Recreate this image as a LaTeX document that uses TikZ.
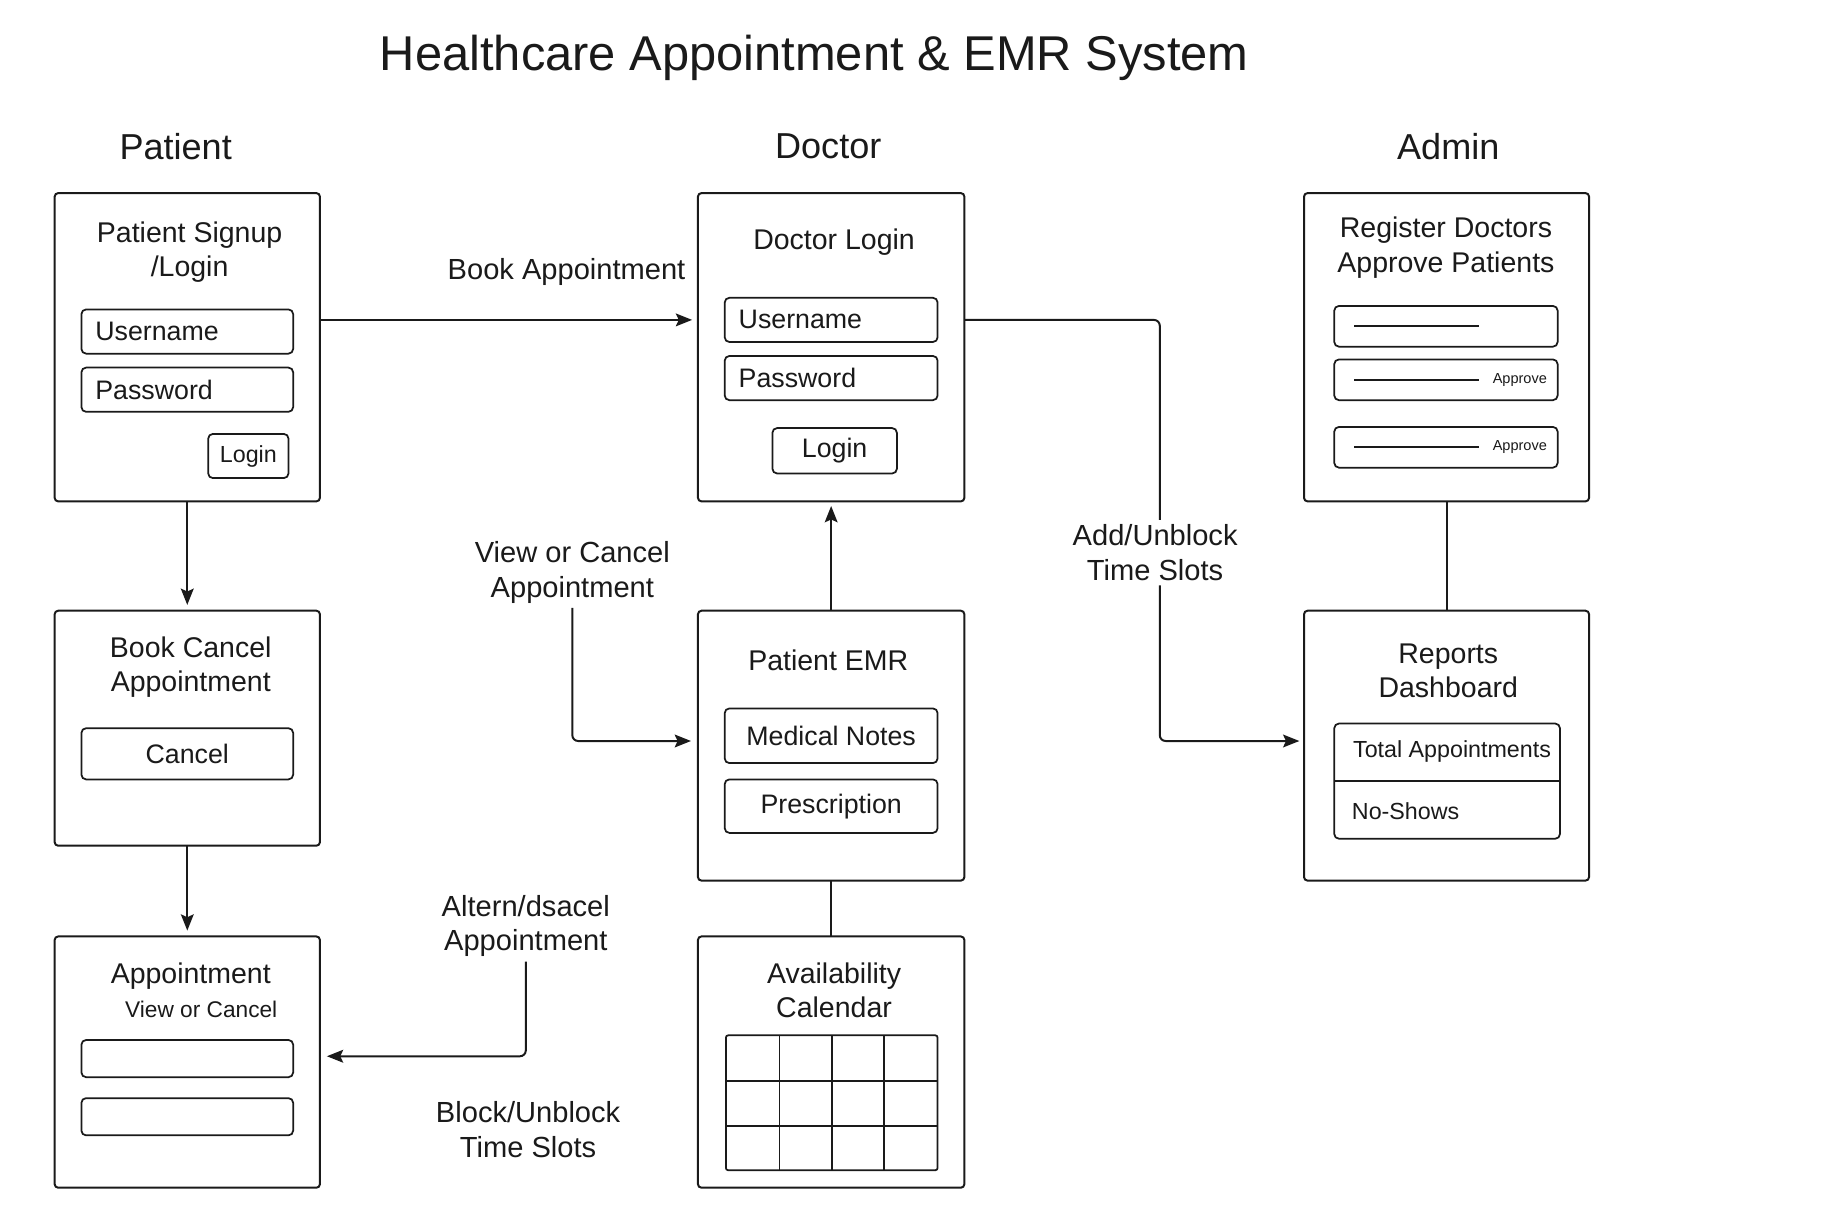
\documentclass[tikz,border=0pt]{standalone}
\usepackage{fontspec}
\setmainfont{Liberation Sans}
\usetikzlibrary{arrows.meta,calc}
\definecolor{ink}{HTML}{1A1A1A}
\newcommand\myfs[2]{\fontsize{#1}{#2}\selectfont}
\begin{document}
\begin{tikzpicture}[x=1pt,y=-1pt,
  box/.style={draw=ink,line width=1.7pt,rounded corners=3pt,inner sep=0pt,outer sep=0pt},
  fld/.style={draw=ink,line width=1.5pt,rounded corners=4pt,inner sep=0pt,outer sep=0pt,text=ink,font=\myfs{23}{27}},
  fldl/.style={fld,text width=#1,align=left,inner xsep=12pt},
  ttl/.style={text=ink,font=\myfs{24.5}{29.5},align=center,inner sep=0pt,yshift=-2pt},
  lbl/.style={text=ink,font=\myfs{25}{29.5},align=center,inner sep=4pt},
  hdr/.style={text=ink,font=\myfs{31}{36},inner sep=0pt},
  conn/.style={draw=ink,line width=1.7pt},
  arr/.style={conn,-{Stealth[length=14pt,width=11pt,inset=2.5pt]}},
  inl/.style={draw=ink,line width=1.5pt}
]
\fill[white] (0,0) rectangle (1568,1047);
\useasboundingbox (0,0) rectangle (1568,1047);

% title and headers
\node[text=ink,font=\myfs{42}{48},inner sep=0pt] (T) at (700,50) {Healthcare Appointment \& EMR System};
\node[hdr] (hP) at (151,126) {Patient};
\node[hdr] (hD) at (712,126) {Doctor};
\node[hdr] (hA) at (1245,126) {Admin};

% ---------- Patient column
\node[box,minimum width=228pt,minimum height=265pt] (P1) at (161,298.5) {};
\node[ttl] (P1t) at (163,214.5) {Patient Signup\\/Login};
\node[fldl=158pt,minimum height=38pt] (P1u) at (161,285) {Username};
\node[fldl=158pt,minimum height=38pt] (P1p) at (161,335) {Password};
\node[fld,font=\myfs{20}{24},minimum width=69pt,minimum height=38pt] (P1b) at (213.5,392) {Login};

\node[box,minimum width=228pt,minimum height=202pt] (P2) at (161,626) {};
\node[ttl] (P2t) at (164,571.5) {Book Cancel\\Appointment};
\node[fld,minimum width=182pt,minimum height=44pt] (P2c) at (161,648) {Cancel};

\node[box,minimum width=228pt,minimum height=216pt] (P3) at (161,913) {};
\node[ttl] (P3t) at (164,837) {Appointment};
\node[ttl,font=\myfs{19.5}{23}] (P3s) at (173,866) {View or Cancel};
\node[fld,minimum width=182pt,minimum height=32pt] (P3a) at (161,910) {};
\node[fld,minimum width=182pt,minimum height=32pt] (P3b) at (161,960) {};

% ---------- Doctor column
\node[box,minimum width=229pt,minimum height=265pt] (D1) at (714.5,298.5) {};
\node[ttl] (D1t) at (717,206) {Doctor Login};
\node[fldl=159pt,minimum height=38pt] (D1u) at (714.5,275) {Username};
\node[fldl=159pt,minimum height=38pt] (D1p) at (714.5,325) {Password};
\node[fld,minimum width=107pt,minimum height=39pt] (D1b) at (717.5,387.5) {Login};

\node[box,minimum width=229pt,minimum height=232pt] (D2) at (714.5,641) {};
\node[ttl] (D2t) at (712,566) {Patient EMR};
\node[fld,minimum width=183pt,minimum height=47pt] (D2m) at (714.5,632.5) {Medical Notes};
\node[fld,minimum width=183pt,minimum height=46pt] (D2p) at (714.5,693) {Prescription};

\node[box,minimum width=229pt,minimum height=216pt] (D3) at (714.5,913) {};
\node[ttl] (D3t) at (717,849.5) {Availability\\Calendar};
\node[fld,rounded corners=2pt,minimum width=182pt,minimum height=116pt] (cal) at (715,948) {};
\foreach \f in {0.253,0.5,0.747}
  \draw[inl] ($(cal.north west)!\f!(cal.north east)$) -- ($(cal.south west)!\f!(cal.south east)$);
\foreach \f in {0.336,0.672}
  \draw[inl] ($(cal.north west)!\f!(cal.south west)$) -- ($(cal.north east)!\f!(cal.south east)$);

% ---------- Admin column
\node[box,minimum width=245pt,minimum height=265pt] (A1) at (1243.5,298.5) {};
\node[ttl] (A1t) at (1243,211) {Register Doctors\\Approve Patients};
\node[fld,minimum width=192pt,minimum height=35pt] (A1f1) at (1243,280.5) {};
\node[fld,minimum width=192pt,minimum height=35pt] (A1f2) at (1243,326.5) {};
\node[fld,minimum width=192pt,minimum height=35pt] (A1f3) at (1243,384.5) {};
\draw[inl] ([xshift=17pt]A1f1.west) -- ([xshift=124pt]A1f1.west);
\draw[inl] ([xshift=17pt]A1f2.west) -- ([xshift=124pt]A1f2.west);
\draw[inl] ([xshift=17pt]A1f3.west) -- ([xshift=124pt]A1f3.west);
\node[text=ink,font=\myfs{12.5}{15},anchor=east,inner sep=0pt] (ap1) at ([xshift=-9pt]A1f2.east) {Approve};
\node[text=ink,font=\myfs{12.5}{15},anchor=east,inner sep=0pt] (ap2) at ([xshift=-9pt]A1f3.east) {Approve};

\node[box,minimum width=245pt,minimum height=232pt] (A2) at (1243.5,641) {};
\node[ttl] (A2t) at (1245,574.5) {Reports\\Dashboard};
\node[fld,minimum width=194pt,minimum height=99pt] (tab) at (1244,671.5) {};
\draw[inl] (tab.west) -- (tab.east);
\node[text=ink,font=\myfs{20}{24},anchor=west,inner sep=0pt] (tot) at (1163,646) {Total Appointments};
\node[text=ink,font=\myfs{20}{24},anchor=west,inner sep=0pt] (nos) at (1162,697) {No-Shows};

% ---------- connector labels
\node[lbl] (BA) at (487,234) {Book Appointment};
\node[lbl] (VC) at (492,492) {View or Cancel\\Appointment};
\node[lbl] (AU) at (993,475) {Add/Unblock\\Time Slots};
\node[lbl] (AD) at (452,796) {Altern/dsacel\\Appointment};
\node[lbl] (BU) at (454,971) {Block/Unblock\\Time Slots};

% ---------- connectors
\draw[arr,shorten >=5pt] (P1.east |- D1u.west) -- (D1.west |- D1u.west);
\draw[arr,shorten >=5pt] (P1.south) -- (P2.north);
\draw[arr,shorten >=5pt] (P2.south) -- (P3.north);
\draw[arr,shorten >=4pt] (D2.north) -- (D1.south);
\draw[conn] (D2.south) -- (D3.north);
\draw[conn] (A1.south) -- (A2.north);
\draw[arr,rounded corners=5pt,shorten >=6pt] (VC.south) |- ([yshift=4pt]D2.west);
\draw[conn,rounded corners=5pt] (D1.east |- D1u.west) -| ([xshift=4pt]AU.north);
\draw[arr,rounded corners=5pt,shorten >=4pt] ([xshift=4pt]AU.south) |- ([yshift=4pt]A2.west);
\draw[arr,rounded corners=5pt,shorten >=6pt] (AD.south) |- ([yshift=5pt]P3.east);
\end{tikzpicture}
\end{document}
